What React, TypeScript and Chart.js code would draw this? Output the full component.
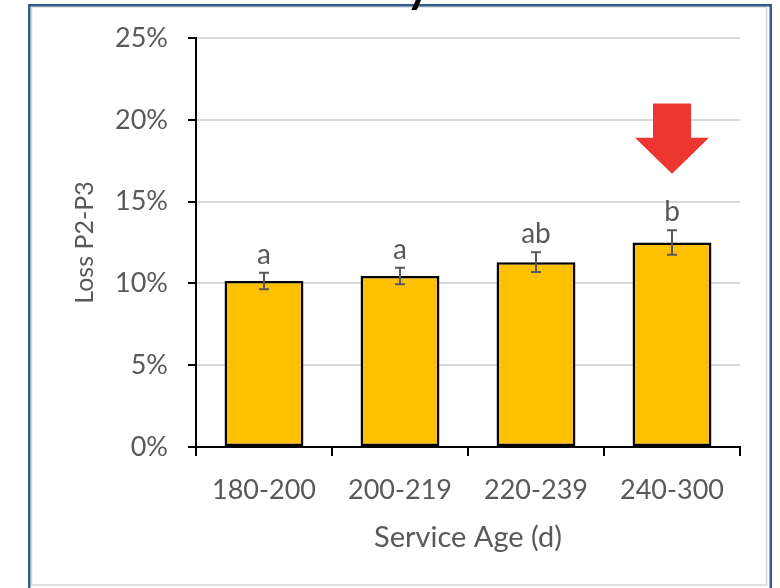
import React, { useEffect, useRef } from "react";
import { Chart, registerables } from "chart.js";

Chart.register(...registerables);

const categories = ["180-200", "200-219", "220-239", "240-300"];
const lossValues = [10.15, 10.45, 11.3, 12.5];
const errValues = [0.5, 0.5, 0.6, 0.75];
const sigLetters = ["a", "a", "ab", "b"];
const yMin = 0;
const yMax = 25;
const yStep = 5;
const arrowIndex = 3;
const arrowTop = 21.0;
const arrowShoulder = 18.9;
const arrowTip = 16.7;

const FONT = "Lato, 'Noto Sans', sans-serif";
const TEXT_GRAY = "#595959";

const decorPlugin = {
  id: "decor",
  afterDatasetsDraw(chart: any) {
    const ctx = chart.ctx;
    const meta = chart.getDatasetMeta(0);
    const y = chart.scales.y;
    ctx.save();
    ctx.strokeStyle = TEXT_GRAY;
    ctx.lineWidth = 2;
    meta.data.forEach((bar: any, i: number) => {
      const x = bar.x;
      const top = y.getPixelForValue(lossValues[i] + errValues[i]);
      const bot = y.getPixelForValue(lossValues[i] - errValues[i]);
      ctx.beginPath();
      ctx.moveTo(x, top);
      ctx.lineTo(x, bot);
      ctx.moveTo(x - 5, top);
      ctx.lineTo(x + 5, top);
      ctx.moveTo(x - 5, bot);
      ctx.lineTo(x + 5, bot);
      ctx.stroke();
      ctx.fillStyle = TEXT_GRAY;
      ctx.font = `28px ${FONT}`;
      ctx.textAlign = "center";
      ctx.textBaseline = "alphabetic";
      ctx.fillText(sigLetters[i], x, top - 9);
    });
    // arrow
    const ax = meta.data[arrowIndex].x;
    const yT = y.getPixelForValue(arrowTop);
    const yS = y.getPixelForValue(arrowShoulder);
    const yP = y.getPixelForValue(arrowTip);
    ctx.fillStyle = "#EE3630";
    ctx.beginPath();
    ctx.moveTo(ax - 19, yT);
    ctx.lineTo(ax + 19, yT);
    ctx.lineTo(ax + 19, yS);
    ctx.lineTo(ax + 37, yS);
    ctx.lineTo(ax, yP);
    ctx.lineTo(ax - 37, yS);
    ctx.lineTo(ax - 19, yS);
    ctx.closePath();
    ctx.fill();
    ctx.restore();
  },
  afterDraw(chart: any) {
    const ctx = chart.ctx;
    ctx.save();
    // inner light frame
    ctx.strokeStyle = "#D6D6D6";
    ctx.lineWidth = 1.5;
    ctx.strokeRect(31.5, 7, 735, 578);
    // outer blue frame
    ctx.fillStyle = "#2E5E8E";
    ctx.fillRect(28, 4, 2.5, 590);
    ctx.fillRect(28, 4, 744, 2.5);
    ctx.fillRect(769.5, 4, 2.5, 590);
    // cut-off chart title (only the descender shows)
    ctx.fillStyle = "#000";
    ctx.font = `bold 46px ${FONT}`;
    ctx.textAlign = "left";
    ctx.textBaseline = "alphabetic";
    ctx.fillText("y", 406, 2);
    ctx.restore();
  },
};

export default function App() {
  const ref = useRef<HTMLCanvasElement | null>(null);
  useEffect(() => {
    if (!ref.current) return;
    const chart = new Chart(ref.current, {
      type: "bar",
      data: {
        labels: categories,
        datasets: [
          {
            data: lossValues,
            backgroundColor: "#FFC000",
            borderColor: "#000000",
            borderWidth: 2.5,
            borderSkipped: false,
            barPercentage: 0.58,
            categoryPercentage: 1,
          },
        ],
      },
      options: {
        animation: false,
        responsive: false,
        maintainAspectRatio: false,
        layout: { padding: { top: 38, right: 40, left: 0, bottom: 0 } },
        plugins: { legend: { display: false }, tooltip: { enabled: false }, title: { display: false } },
        scales: {
          x: {
            afterFit: (s: any) => {
              s.height = 141;
            },
            grid: {
              display: true,
              drawOnChartArea: false,
              offset: true,
              color: "#000",
              tickColor: "#000",
              tickLength: 9,
              lineWidth: 2,
            },
            border: { display: true, color: "#000", width: 2 },
            ticks: { color: TEXT_GRAY, font: { family: FONT, size: 27 }, padding: 18 },
            title: {
              display: true,
              text: "Service Age (d)",
              color: TEXT_GRAY,
              font: { family: FONT, size: 29 },
              padding: { top: 0, bottom: 33 },
            },
          },
          y: {
            min: yMin,
            max: yMax,
            afterFit: (s: any) => {
              s.width = 196;
            },
            grid: {
              color: "#D9D9D9",
              lineWidth: 2,
              tickColor: "#000",
              tickLength: 8,
              tickWidth: 2,
            },
            border: { display: true, color: "#000", width: 2 },
            ticks: {
              stepSize: yStep,
              color: TEXT_GRAY,
              font: { family: FONT, size: 27 },
              padding: 20,
              callback: (v: any) => `${v}%`,
            },
            title: {
              display: true,
              text: "Loss P2-P3",
              color: TEXT_GRAY,
              font: { family: FONT, size: 25 },
              padding: { top: 70, bottom: 0 },
            },
          },
        },
      },
      plugins: [decorPlugin],
    });
    return () => chart.destroy();
  }, []);
  return (
    <div style={{ position: "absolute", left: 0, top: 0, width: 780, height: 588, background: "#fff" }}>
      <canvas ref={ref} width={780} height={588} style={{ width: 780, height: 588 }} />
    </div>
  );
}
